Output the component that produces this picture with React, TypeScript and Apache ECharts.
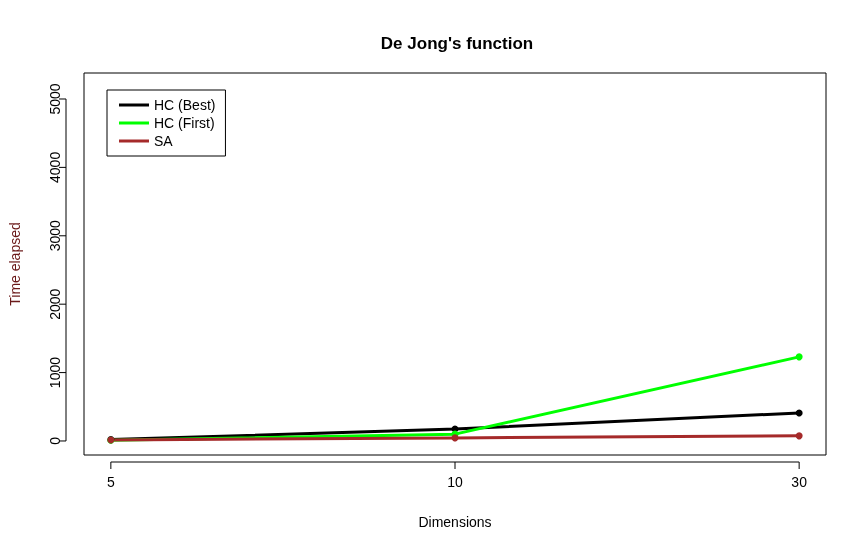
import React, { useEffect, useRef } from 'react';
import * as echarts from 'echarts';

const dims = ['5', '10', '30'];
const hcBest = [20, 175, 410];
const hcFirst = [10, 100, 1230];
const sa = [15, 45, 75];
const yTicks = [0, 1000, 2000, 3000, 4000, 5000];

const App: React.FC = () => {
  const ref = useRef<HTMLDivElement | null>(null);

  useEffect(() => {
    if (!ref.current) return;
    const chart = echarts.init(ref.current, null, { renderer: 'svg' });
    const font = 'Liberation Sans, Arial, sans-serif';
    const mk = (name: string, color: string, vals: number[]) => ({
      name,
      type: 'line',
      data: vals.map((v, i) => [i, v]),
      symbol: 'circle',
      symbolSize: 7,
      lineStyle: { color, width: 3 },
      itemStyle: { color },
    });
    chart.setOption({
      animation: false,
      title: {
        text: "De Jong's function",
        left: 452,
        textAlign: 'center',
        top: 30,
        textStyle: { fontFamily: font, fontSize: 17, fontWeight: 'bold', color: '#000' },
      },
      grid: {
        left: 79, right: 40, top: 73, bottom: 98,
        show: true, borderColor: '#000', borderWidth: 1, containLabel: false,
      },
      legend: {
        orient: 'vertical',
        left: 107,
        top: 90,
        padding: [8, 10, 8, 12],
        borderColor: '#000',
        borderWidth: 1,
        borderRadius: 0,
        itemGap: 4,
        itemWidth: 30,
        itemHeight: 3,
        icon: 'rect',
        textStyle: { fontFamily: font, fontSize: 14, color: '#000' },
        data: ['HC (Best)', 'HC (First)', 'SA'],
      },
      xAxis: {
        type: 'value',
        min: -0.078,
        max: 2.078,
        splitLine: { show: false },
        axisLine: { show: false },
        axisTick: { show: false },
        axisLabel: {
          customValues: [0, 1, 2],
          formatter: (v: number) => dims[Math.round(v)],
          fontFamily: font, fontSize: 14, color: '#000', margin: 20,
        },
        name: 'Dimensions',
        nameLocation: 'middle',
        nameGap: 60,
        nameTextStyle: { fontFamily: font, fontSize: 14, color: '#000' },
      },
      yAxis: {
        type: 'value',
        min: -205,
        max: 5380,
        splitLine: { show: false },
        axisLine: { show: false },
        axisTick: { show: false },
        axisLabel: {
          customValues: yTicks,
          formatter: (v: number) => String(v),
          rotate: 90,
          fontFamily: font, fontSize: 14, color: '#000', margin: 22,
        },
        name: 'Time elapsed',
        nameLocation: 'middle',
        nameGap: 62,
        nameTextStyle: { fontFamily: font, fontSize: 14, color: '#6b1a1a' },
      },
      series: [
        mk('HC (Best)', '#000000', hcBest),
        mk('HC (First)', '#00ff00', hcFirst),
        mk('SA', '#a52a2a', sa),
      ],
    });
    // R-style axes: lines span only the tick range, offset from the box
    const px = (x: number, y: number) => chart.convertToPixel({ gridIndex: 0 }, [x, y]) as number[];
    const st = { stroke: '#000', lineWidth: 1 };
    const xa = 462;
    const ya = 66;
    const g: any[] = [
      { type: 'line', shape: { x1: px(0, 0)[0], y1: xa, x2: px(2, 0)[0], y2: xa }, style: st },
      { type: 'line', shape: { x1: ya, y1: px(0, 0)[1], x2: ya, y2: px(0, 5000)[1] }, style: st },
    ];
    [0, 1, 2].forEach((i) => {
      const x = px(i, 0)[0];
      g.push({ type: 'line', shape: { x1: x, y1: xa, x2: x, y2: xa + 7 }, style: st });
    });
    yTicks.forEach((v) => {
      const y = px(0, v)[1];
      g.push({ type: 'line', shape: { x1: ya - 7, y1: y, x2: ya, y2: y }, style: st });
    });
    chart.setOption({ graphic: g });
    return () => chart.dispose();
  }, []);

  return <div ref={ref} style={{ position: 'fixed', left: 0, top: 0, width: 866, height: 553 }} />;
};

export default App;
